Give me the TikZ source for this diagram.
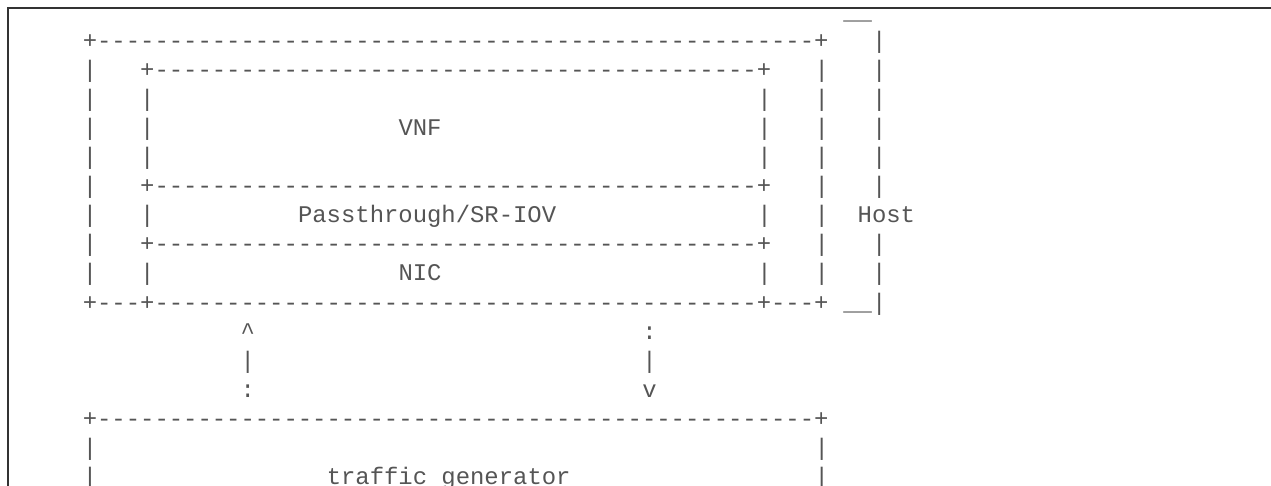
\documentclass[tikz,border=0pt]{standalone}
\usepackage{fontspec}
\setmonofont{Liberation Mono}
\ExplSyntaxOn
\NewDocumentCommand\dashes{m}{\prg_replicate:nn{#1}{-\kern0pt}}
\ExplSyntaxOff
\definecolor{ink}{RGB}{85,85,85}
\definecolor{framec}{RGB}{51,51,51}
\def\X#1{82.8+#1*14.35}
\def\Y#1{19+#1*29.1}
\tikzset{asc/.style={inner sep=0pt, outer sep=0pt, anchor=base west, text=ink,
  font=\ttfamily\fontsize{23.9}{29}\selectfont}}
\begin{document}
\begin{tikzpicture}[x=1pt,y=-1pt]
\useasboundingbox (0,0) rectangle (1271,486);
\fill[white] (0,0) rectangle (1271,486);
\draw[framec, line width=2pt] (8,486) -- (8,8) -- (1271,8);
% host (outer) box
\node[asc] (hosttop) at ({\X{0}},{\Y{1}}) {+\dashes{50}+};
\node[asc] (hostbot) at ({\X{0}},{\Y{10}}) {+\dashes{3}+\dashes{42}+\dashes{3}+};
\foreach \r in {2,...,9} {
  \node[asc] (hl\r) at ({\X{0}},{\Y{\r}}) {|};
  \node[asc] (hr\r) at ({\X{51}},{\Y{\r}}) {|};
}
% inner stack
\node[asc] (vnftop) at ({\X{4}},{\Y{2}}) {+\dashes{42}+};
\node[asc] (sep1) at ({\X{4}},{\Y{6}}) {+\dashes{42}+};
\node[asc] (sep2) at ({\X{4}},{\Y{8}}) {+\dashes{42}+};
\foreach \r in {3,4,5,7,9} {
  \node[asc] (il\r) at ({\X{4}},{\Y{\r}}) {|};
  \node[asc] (ir\r) at ({\X{47}},{\Y{\r}}) {|};
}
\node[asc] (vnf) at ({\X{22}},{\Y{4}}) {VNF};
\node[asc] (pass) at ({\X{15}},{\Y{7}}) {Passthrough/SR-IOV};
\node[asc] (nic) at ({\X{22}},{\Y{9}}) {NIC};
% host bracket
\node[asc] (brtop) at ({\X{53}},{\Y{0}+1}) {\_\_};
\foreach \r in {1,...,6,8,9} {
  \node[asc] (br\r) at ({\X{55}},{\Y{\r}}) {|};
}
\node[asc] (host) at ({\X{54}},{\Y{7}}) {Host};
\node[asc] (brbot) at ({\X{53}},{\Y{10}}) {\_\_|};
% links
\node[asc] (a1) at ({\X{11}},{\Y{11}}) {\textasciicircum};
\node[asc] (a2) at ({\X{11}},{\Y{12}}) {|};
\node[asc] (a3) at ({\X{11}},{\Y{13}}) {:};
\node[asc] (b1) at ({\X{39}},{\Y{11}}) {:};
\node[asc] (b2) at ({\X{39}},{\Y{12}}) {|};
\node[asc] (b3) at ({\X{39}},{\Y{13}}) {v};
% traffic generator
\node[asc] (tgtop) at ({\X{0}},{\Y{14}}) {+\dashes{50}+};
\foreach \r in {15,16} {
  \node[asc] (tl\r) at ({\X{0}},{\Y{\r}}) {|};
  \node[asc] (tr\r) at ({\X{51}},{\Y{\r}}) {|};
}
\node[asc] (tg) at ({\X{17}},{\Y{16}}) {traffic generator};
\end{tikzpicture}
\end{document}
